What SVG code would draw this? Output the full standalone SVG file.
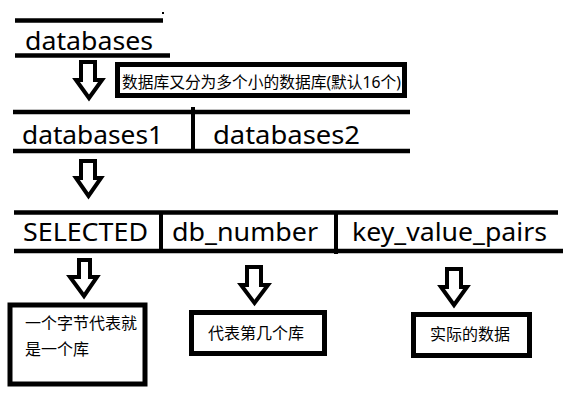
<svg xmlns="http://www.w3.org/2000/svg" width="580" height="412" viewBox="0 0 580 412">
<style>
.ln{stroke:#000;stroke-width:4.5;fill:none;stroke-linecap:butt}
.dv{stroke:#000;stroke-width:4;fill:none}
.lat{font-family:"Noto Sans","Open Sans","DejaVu Sans",sans-serif;font-size:25px;fill:#000}
.cjk{font-family:"Noto Sans","Noto Sans CJK SC",sans-serif;font-size:16px;fill:#000}
.box{fill:none;stroke:#000;stroke-width:5}
.bg{fill:#fff}
.arr{fill:#fff;stroke:#000;stroke-width:4;stroke-linejoin:miter}
</style>
<rect width="580" height="412" fill="#fff"/>
<g id="connectors">
<polygon class="arr" points="81,62 81,80 76,80 89,98 102,80 95,80 95,62"/>
<polygon class="arr" points="81,161 81,178 76,178 88.5,196 101,178 95,178 95,161"/>
<polygon class="arr" points="79,260 79,277 70,277 84,296 97,277 90,277 90,260"/>
<polygon class="arr" points="247,267 247,285 241,285 254.5,303 268,285 261,285 261,267"/>
<polygon class="arr" points="447,269 447,287 441,287 454,305 467,287 461,287 461,269"/>
</g>
<g id="node-databases">
<line class="ln" x1="15" y1="20.5" x2="163" y2="20.5"/>
<rect x="162" y="12" width="2" height="2" fill="#000"/>
<text class="lat" x="25" y="50" textLength="128" lengthAdjust="spacingAndGlyphs">databases</text>
<line class="ln" x1="15" y1="55.5" x2="170" y2="55.5"/>
</g>
<g id="node-note-split">
<rect class="bg" x="117.5" y="64.5" width="287" height="31"/>
<text class="cjk" x="122" y="88" textLength="279" lengthAdjust="spacingAndGlyphs">数据库又分为多个小的数据库(默认16个)</text>
<rect class="box" x="117.5" y="64.5" width="287" height="31"/>
</g>
<g id="node-databases-row">
<line class="ln" x1="13" y1="112" x2="410" y2="112"/>
<line class="ln" x1="13" y1="151" x2="410" y2="151"/>
<line class="dv" x1="193" y1="107" x2="193" y2="150"/>
<text class="lat" x="22" y="144" textLength="141" lengthAdjust="spacingAndGlyphs">databases1</text>
<text class="lat" x="213" y="144" textLength="147" lengthAdjust="spacingAndGlyphs">databases2</text>
</g>
<g id="node-fields-row">
<line class="ln" x1="14" y1="212.5" x2="558" y2="212.5"/>
<line class="ln" x1="14" y1="251" x2="563" y2="251"/>
<line class="dv" x1="161" y1="212" x2="161" y2="251"/>
<line class="dv" x1="336" y1="212" x2="336" y2="254"/>
<text class="lat" x="23" y="241" textLength="125" lengthAdjust="spacingAndGlyphs">SELECTED</text>
<text class="lat" x="172" y="241" textLength="146" lengthAdjust="spacingAndGlyphs">db_number</text>
<text class="lat" x="352" y="241" textLength="195" lengthAdjust="spacingAndGlyphs">key_value_pairs</text>
</g>
<g id="node-selected-note">
<rect class="box" x="10" y="305" width="135" height="79" stroke-width="6"/>
<text class="cjk" x="25" y="329">一个字节代表就</text>
<text class="cjk" x="25" y="355">是一个库</text>
</g>
<g id="node-dbnumber-note">
<rect class="box" x="191.5" y="312.5" width="133" height="41"/>
<text class="cjk" x="208" y="339">代表第几个库</text>
</g>
<g id="node-kv-note">
<rect class="box" x="413.5" y="314.5" width="116" height="41"/>
<text class="cjk" x="430" y="340">实际的数据</text>
</g>
</svg>
